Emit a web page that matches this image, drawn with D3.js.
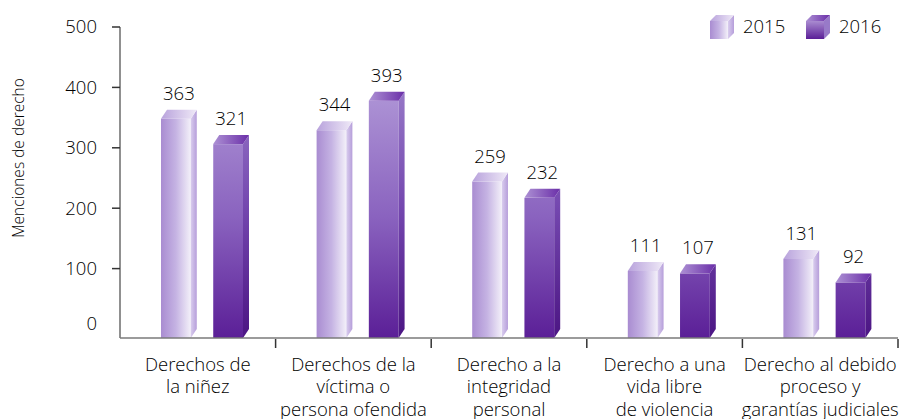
<!DOCTYPE html>
<html>
<head>
<meta charset="utf-8">
<script src="https://cdn.jsdelivr.net/npm/d3@7"></script>
<style>
  body { margin: 0; background: #fff; }
  svg { display: block; font-family: "Open Sans", sans-serif; font-weight: 300; }
</style>
</head>
<body>
<svg id="chart" width="903" height="419"></svg>
<script>
// data
const categories = [
  ["Derechos de", "la niñez"],
  ["Derechos de la", "víctima o", "persona ofendida"],
  ["Derecho a la", "integridad", "personal"],
  ["Derecho a una", "vida libre", "de violencia"],
  ["Derecho al debido", "proceso y", "garantías judiciales"]
];
const years = ["2015", "2016"];
const values2015 = [363, 344, 259, 111, 131];
const values2016 = [321, 393, 232, 107, 92];
const yTicks = [0, 100, 200, 300, 400, 500];
const yTitle = "Menciones de derecho";

const svg = d3.select("#chart");
const DX = 6, DY = 9;   // depth of the 3d bars
const ink = "#000";

let keys = categories.map((c, i) => i);
let rows = keys.map(i => ({ key: i, vals: [values2015[i], values2016[i]] }));

let x0 = d3.scaleBand().domain(keys).range([120, 898]).padding(0);
let x1 = d3.scaleBand().domain(years).range([41, 123]).paddingInner(0.43);
let y = d3.scaleLinear().domain([0, 500]).range([329, 27]);

// gradients
let defs = svg.append("defs");
function grad(id, stops, horiz, user) {
  let g = defs.append("linearGradient").attr("id", id);
  if (user) {
    g.attr("gradientUnits", "userSpaceOnUse").attr("x1", 0).attr("x2", 0).attr("y1", user[0]).attr("y2", user[1]);
  } else {
    g.attr("x1", 0).attr("y1", 0).attr("x2", horiz ? 1 : 0).attr("y2", horiz ? 0 : 1);
  }
  stops.forEach((s, i) => g.append("stop").attr("offset", i / (stops.length - 1)).attr("stop-color", s));
}
grad("f2015", ["#a98cd1", "#c5b3e3", "#f3f0f9"], true);
grad("s2015", ["#d9cdee", "#b69eda"], true);
grad("t2015", ["#b8a2dc", "#efe9f7"], true);
grad("f2016", ["#ad93d5", "#8a63bf", "#5b1f97"], false, [95, 338]);
grad("s2016", ["#987ac8", "#7447af", "#4e1886"], false, [85, 330]);
grad("t2016", ["#ad91d4", "#6a2ea8"], true);
// legend cube uses a bbox gradient
grad("lf2016", ["#a98bd0", "#5b1f97"], false);

// axes
let axisG = svg.append("g");
axisG.append("line")
  .attr("x1", 120).attr("x2", 120).attr("y1", y(500)).attr("y2", 338)
  .attr("stroke", "#6b6b6b").attr("stroke-width", 1.5);
axisG.selectAll(".ytick").data(yTicks.filter(d => d > 0)).join("line")
  .attr("x1", 112).attr("x2", 120).attr("y1", d => y(d)).attr("y2", d => y(d))
  .attr("stroke", "#333").attr("stroke-width", 1.5);
axisG.selectAll(".ylab").data(yTicks).join("text")
  .attr("x", 97).attr("y", d => d === 0 ? y(d) - 5 : y(d))
  .attr("dy", "0.35em")
  .attr("text-anchor", "end")
  .attr("font-size", 18.5).attr("fill", ink)
  .text(d => d);

svg.append("text")
  .attr("transform", `translate(24, 158) rotate(-90)`)
  .attr("text-anchor", "middle")
  .attr("font-size", 15.5).attr("fill", ink)
  .text(yTitle);

// bars
let groups = svg.selectAll(".grp").data(rows).join("g")
  .attr("transform", d => `translate(${x0(d.key)},0)`);

groups.each(function(row) {
  let g = d3.select(this);
  years.forEach((yr, j) => {
    let v = row.vals[j];
    let bx = x1(yr), w = x1.bandwidth();
    let yt = y(v) + DY, yb = y(0) + DY;
    g.append("rect")
      .attr("x", bx).attr("y", yt).attr("width", w).attr("height", yb - yt)
      .attr("fill", `url(#f${yr})`);
    g.append("path")
      .attr("d", `M${bx + w},${yt}L${bx + w + DX},${yt - DY}L${bx + w + DX},${yb - DY}L${bx + w},${yb}Z`)
      .attr("fill", `url(#s${yr})`);
    g.append("path")
      .attr("d", `M${bx},${yt}L${bx + DX},${yt - DY}L${bx + w + DX},${yt - DY}L${bx + w},${yt}Z`)
      .attr("fill", `url(#t${yr})`);
    g.append("text")
      .attr("x", bx + (w + DX) / 2).attr("y", yt - DY - 10)
      .attr("text-anchor", "middle")
      .attr("font-size", 18.5).attr("fill", ink)
      .text(v);
  });
});

// category axis
svg.append("line")
  .attr("x1", 120).attr("x2", 898).attr("y1", 338).attr("y2", 338)
  .attr("stroke", "#7a7a7a").attr("stroke-width", 1.5);
svg.selectAll(".xtick").data(keys).join("line")
  .attr("x1", d => x0(d) + x0.bandwidth()).attr("x2", d => x0(d) + x0.bandwidth())
  .attr("y1", 339).attr("y2", 348)
  .attr("stroke", "#333").attr("stroke-width", 1.5);

svg.selectAll(".xlab").data(keys).join("text")
  .attr("text-anchor", "middle")
  .attr("font-size", 18.5).attr("fill", ink)
  .each(function(d) {
    let t = d3.select(this);
    categories[d].forEach((line, k) => {
      t.append("tspan")
        .attr("x", x0(d) + x0.bandwidth() / 2)
        .attr("y", 370.5 + k * 22.8)
        .text(line);
    });
  });

// legend
let legend = svg.append("g");
let legX = [710, 806];
years.forEach((yr, j) => {
  let lg = legend.append("g").attr("transform", `translate(${legX[j]},15)`);
  let s = 18, d = 6;
  lg.append("rect").attr("x", 0).attr("y", d).attr("width", s).attr("height", s)
    .attr("fill", j === 0 ? "url(#f2015)" : "url(#lf2016)");
  lg.append("path").attr("d", `M${s},${d}L${s + d},0L${s + d},${s}L${s},${s + d}Z`)
    .attr("fill", `url(#s${yr})`);
  lg.append("path").attr("d", `M0,${d}L${d},0L${s + d},0L${s},${d}Z`)
    .attr("fill", `url(#t${yr})`);
  lg.append("text").attr("x", 33).attr("y", 12).attr("dy", "0.35em")
    .attr("font-size", 18.5).attr("fill", ink)
    .text(yr);
});
</script>
</body>
</html>
